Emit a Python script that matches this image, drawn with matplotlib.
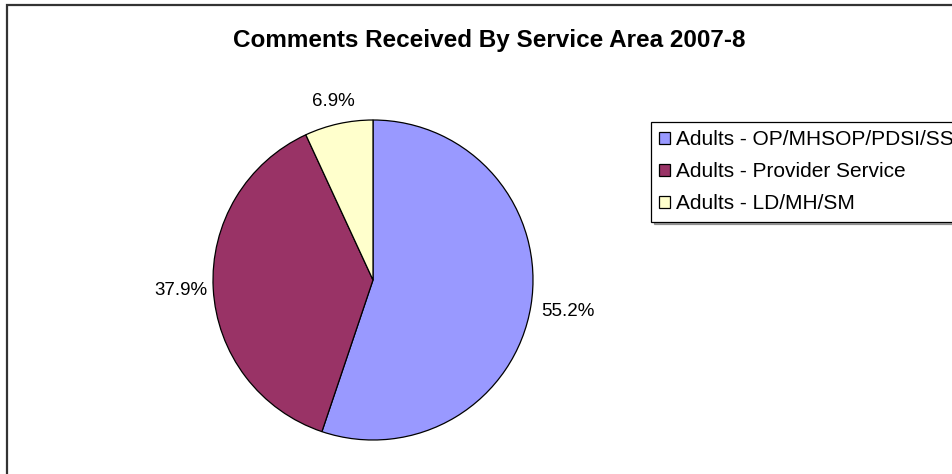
import numpy as np
import matplotlib
matplotlib.use("Agg")
import matplotlib.pyplot as plt
from matplotlib.patches import Rectangle, Patch

plt.rcParams['font.family'] = ['Liberation Sans', 'DejaVu Sans']

# ---------------------------------------------------
# DATOS
# ---------------------------------------------------
areas = ['Adults - OP/MHSOP/PDSI/SS', 'Adults - Provider Service', 'Adults - LD/MH/SM']
comentarios = [16, 11, 2]
colores = ['#9999FF', '#993366', '#FFFFCC']
titulo = 'Comments Received By Service Area 2007-8'

# ---------------------------------------------------
# FIGURA
# ---------------------------------------------------
W, H = 952, 474
fig = plt.figure(figsize=(W / 100, H / 100), dpi=100)
fig.patch.set_facecolor('white')

# marco del gráfico (solo se ven arriba e izquierda)
fig.patches.append(Rectangle((6.5 / W, -0.2), 2, 1.2 - 4.5 / H, transform=fig.transFigure,
                             fill=False, edgecolor='#333333', linewidth=1.6))

fig.text(489 / W, 1 - 40 / H, titulo, ha='center', va='center',
         fontsize=17.5, fontweight='bold')

# pie: centro (373, 280) px, radio 160 px
cx, cy, r = 373, 280, 160
ax = fig.add_axes([(cx - r) / W, (H - cy - r) / H, 2 * r / W, 2 * r / H])
wedges, _, pct = ax.pie(comentarios, colors=colores, startangle=90, counterclock=False,
                        autopct='%1.1f%%', pctdistance=1.2,
                        wedgeprops=dict(edgecolor='black', linewidth=0.9),
                        textprops=dict(fontsize=13.5))
ax.set_aspect('equal')
ax.set_xlim(-1, 1)
ax.set_ylim(-1, 1)

# ajuste fino de la distancia de cada etiqueta
ajuste = [1.03, 1.0, 0.95]
for t, f in zip(pct, ajuste):
    x, y = t.get_position()
    t.set_position((x * f, y * f))

handles = [Patch(facecolor=c, edgecolor='black', linewidth=0.9) for c in colores]
leg = fig.legend(handles, areas, loc='upper left', bbox_to_anchor=(651 / W, 1 - 122 / H),
                 fontsize=15, frameon=True, fancybox=False, shadow=True,
                 handlelength=0.5, handleheight=0.5, handletextpad=0.3,
                 labelspacing=0.62, borderpad=0.4, borderaxespad=0)
leg.get_frame().set_edgecolor('black')
leg.get_frame().set_linewidth(0.9)

fig.savefig('out.png', dpi=100, facecolor='white')
plt.close(fig)
